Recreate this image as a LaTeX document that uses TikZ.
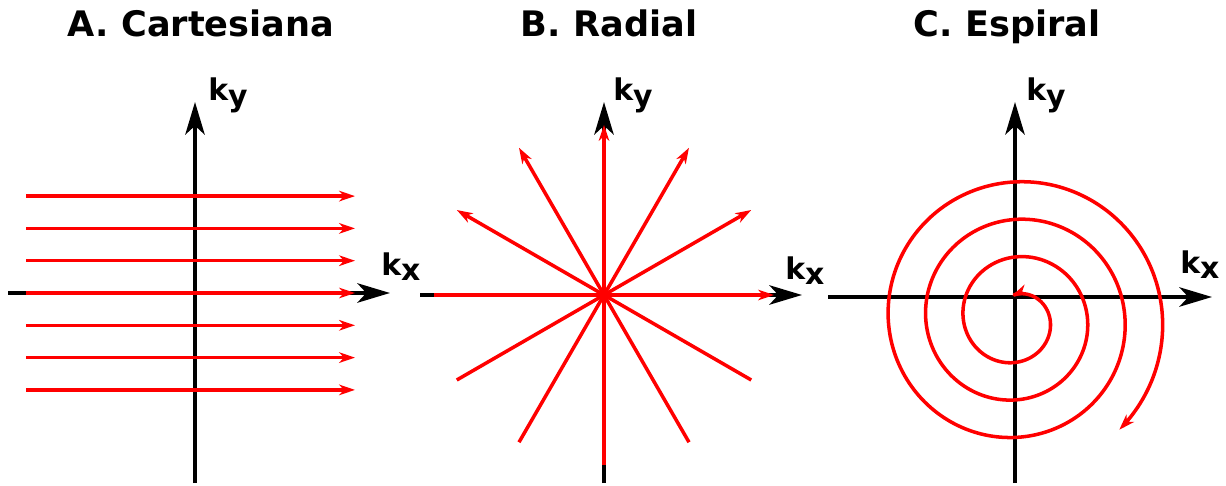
\documentclass[tikz,border=0pt]{standalone}
\usepackage{fontspec}
\setmainfont{DejaVu Sans}
\usepackage{tikz}
\usetikzlibrary{arrows.meta, positioning}
\usepackage{xcolor}

\begin{document}
\begin{tikzpicture}[
                x=0.02cm, y=-0.02cm,
                axis/.style={draw=black, line width=2.3pt, -{Stealth[length=18.5pt, width=11pt, inset=5pt]}},
                traj/.style={draw=red, line width=2pt, -{Stealth[length=9pt, width=6pt, inset=2.7pt]}},
                title/.style={font=\bfseries\fontsize{20}{24}\selectfont, anchor=base, inner sep=0pt},
                klabel/.style={font=\bfseries\fontsize{17}{20}\selectfont, anchor=base west, inner sep=0pt}
            ]
\useasboundingbox (0,0) rectangle (1226,486);

% titles
\node[title] (tcart) at (201,37) {A. Cartesiana};
            \node[title] (trad) at (609,37) {B. Radial};
            \node[title] (tspir) at (1007,37) {C. Espiral};

% A. Cartesiana
\draw[axis] (195,483) -- (195,102);
            \draw[axis] (8,293) -- (390,293);
            \foreach \k in {-3,...,3}
                \draw[traj] (26,293+32.3*\k) -- (355,293+32.3*\k);
            \node[klabel] (kyA) at (208,101) {k\raisebox{-3pt}{y}};
            \node[klabel] (kxA) at (381,275) {k\raisebox{-3pt}{x}};

% B. Radial
\coordinate (oB) at (604,295);
            \draw[axis] (604,483) -- (604,102);
            \draw[axis] (420,295) -- (802,295);
            \foreach \a in {0,30,...,150}
                \draw[traj] ([shift={(\a+180:170 and -170)}]oB) -- ([shift={(\a:170 and -170)}]oB);
            \node[klabel] (kyB) at (613,101) {k\raisebox{-3pt}{y}};
            \node[klabel] (kxB) at (785,279) {k\raisebox{-3pt}{x}};

% C. Espiral
\draw[axis] (1015,483) -- (1015,102);
            \draw[axis] (828,297) -- (1212,297);
            \draw[traj, {Stealth[length=9pt, width=6pt, inset=2.7pt]}-{Stealth[length=9pt, width=6pt, inset=2.7pt]}]
                plot[domain=-100:1127, samples=320, smooth] ({1016+(34+0.1042*\x)*cos(\x)}, {319+(34+0.1042*\x)*sin(\x)});
            \node[klabel] (kyC) at (1026,101) {k\raisebox{-3pt}{y}};
            \node[klabel] (kxC) at (1180,273) {k\raisebox{-3pt}{x}};

            \end{tikzpicture}
\end{document}
